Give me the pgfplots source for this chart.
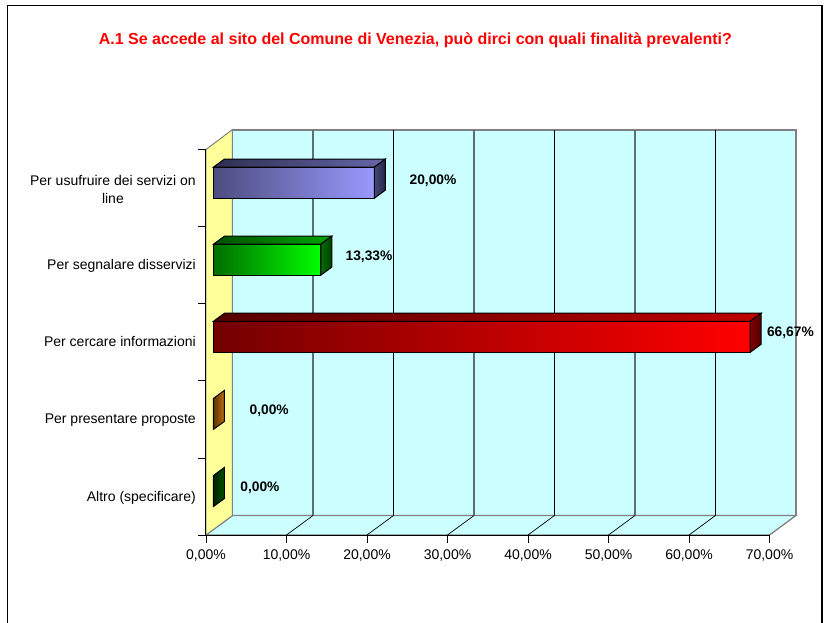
\documentclass[border=0pt]{standalone}
\usepackage{fontspec}
\setmainfont{Liberation Sans}
\usepackage{pgfplots}
\pgfplotsset{compat=1.18}
% 1pt in the file = 1px in the reference
\definecolor{wallcyan}{RGB}{204,255,255}
\definecolor{wallyellow}{RGB}{255,255,153}
\definecolor{wallgrey}{RGB}{128,128,128}
\definecolor{gridgrey}{RGB}{95,110,110}
\definecolor{bluefl}{RGB}{77,77,128}
\definecolor{bluefr}{RGB}{153,153,255}
\definecolor{bluetl}{RGB}{46,46,80}
\definecolor{bluetr}{RGB}{102,102,170}
\definecolor{bluesl}{RGB}{70,70,120}
\definecolor{bluesr}{RGB}{35,35,70}
\definecolor{greenfl}{RGB}{0,110,0}
\definecolor{greenfr}{RGB}{0,255,0}
\definecolor{greentl}{RGB}{0,80,0}
\definecolor{greentr}{RGB}{0,165,0}
\definecolor{greensl}{RGB}{0,110,0}
\definecolor{greensr}{RGB}{0,65,0}
\definecolor{redfl}{RGB}{115,0,0}
\definecolor{redfr}{RGB}{255,0,0}
\definecolor{redtl}{RGB}{85,0,0}
\definecolor{redtr}{RGB}{190,0,0}
\definecolor{redsl}{RGB}{130,0,0}
\definecolor{redsr}{RGB}{80,0,0}
\definecolor{brownl}{RGB}{90,50,0}
\definecolor{brownr}{RGB}{190,110,20}
\definecolor{dgreenl}{RGB}{0,35,0}
\definecolor{dgreenr}{RGB}{0,80,0}
\newcommand{\dx}{1.366}  % bar depth in percent units
\newcommand{\dy}{0.104}  % bar depth in category units
\newcommand{\hh}{0.201}  % half bar height in category units
% value, category centre, left colour, right colour
\newcommand{\frontface}[4]{%
  \pgfmathsetmacro\ylo{#2-\hh}\pgfmathsetmacro\yhi{#2+\hh}%
  \addplot[draw=black,line width=1pt,left color=#3,right color=#4,xshift=7.5pt,yshift=5.5pt]
    coordinates {(0,\ylo) (#1,\ylo) (#1,\yhi) (0,\yhi)} --cycle;
}
\newcommand{\topface}[4]{%
  \pgfmathsetmacro\yhi{#2+\hh}\pgfmathsetmacro\yb{#2+\hh+\dy}\pgfmathsetmacro\xb{#1+\dx}%
  \addplot[draw=black,line width=1pt,left color=#3,right color=#4,xshift=7.5pt,yshift=5.5pt]
    coordinates {(0,\yhi) (#1,\yhi) (\xb,\yb) (\dx,\yb)} --cycle;
}
\newcommand{\sideface}[4]{%
  \pgfmathsetmacro\ylo{#2-\hh}\pgfmathsetmacro\yhi{#2+\hh}%
  \pgfmathsetmacro\yc{#2-\hh+\dy}\pgfmathsetmacro\yb{#2+\hh+\dy}\pgfmathsetmacro\xb{#1+\dx}%
  \addplot[draw=black,line width=1pt,left color=#3,right color=#4,xshift=7.5pt,yshift=5.5pt]
    coordinates {(#1,\ylo) (\xb,\yc) (\xb,\yb) (#1,\yhi)} --cycle;
}
\begin{document}
\begin{tikzpicture}
\begin{axis}[
    scale only axis,
    width=563.5pt,
    height=385.5pt,
    xmin=0, xmax=70,
    ymin=0, ymax=5,
    clip=false,
    axis on top,
    axis lines*=left,
    axis line style={black,line width=1pt},
    tick style={black,line width=0.8pt},
    tick align=outside,
    major tick length=8pt,
    font=\fontsize{14}{18}\selectfont,
    xtick={0,10,20,30,40,50,60,70},
    xticklabels={{0,00\%},{10,00\%},{20,00\%},{30,00\%},{40,00\%},{50,00\%},{60,00\%},{70,00\%}},
    xticklabel style={inner sep=0pt,yshift=-7pt},
    ytick={0,1,2,3,4,5},
    yticklabels={},
    extra y ticks={0.5,1.5,2.5,3.5,4.5},
    extra y tick labels={\vphantom{(}Altro (specificare),\vphantom{(}Per presentare proposte,\vphantom{(}Per cercare informazioni,\vphantom{(}Per segnalare disservizi,{Per usufruire dei servizi on\\line}},
    extra y tick style={major tick length=0pt,
      yticklabel style={align=center,inner sep=0pt,xshift=-10pt,yshift=-1pt}},
]
% walls and floor
\addplot[fill=wallcyan,draw=wallgrey,line width=1.3pt,xshift=26.5pt,yshift=19.5pt]
  coordinates {(0,0) (70,0) (70,5) (0,5)} --cycle;
\addplot[fill=wallcyan,draw=wallgrey,line width=1.3pt]
  coordinates {(0,0) (3.292,0.253) (73.292,0.253) (70,0)} --cycle;
\addplot[fill=wallyellow,draw=wallgrey,line width=1pt]
  coordinates {(0,0) (3.292,0.253) (3.292,5.259) (0,5)} --cycle;
% gridlines, grey and black in turn as in the source
\pgfplotsinvokeforeach{10,30,50}{
  \addplot[gridgrey,line width=1.1pt,xshift=26.5pt,yshift=19.5pt] coordinates {(#1,0) (#1,5)};
}
\pgfplotsinvokeforeach{20,40,60}{
  \addplot[black,line width=0.8pt,xshift=26.5pt,yshift=19.5pt] coordinates {(#1,0) (#1,5)};
}
\addplot[black,line width=0.7pt] coordinates {(10,0) (13.292,0.253)};
\addplot[black,line width=0.7pt] coordinates {(20,0) (23.292,0.253)};
\addplot[black,line width=0.7pt] coordinates {(30,0) (33.292,0.253)};
\addplot[black,line width=0.7pt] coordinates {(40,0) (43.292,0.253)};
\addplot[black,line width=0.7pt] coordinates {(50,0) (53.292,0.253)};
\addplot[black,line width=0.7pt] coordinates {(60,0) (63.292,0.253)};
% bars
\frontface{20.00}{4.5}{bluefl}{bluefr}
\topface{20.00}{4.5}{bluetl}{bluetr}
\sideface{20.00}{4.5}{bluesl}{bluesr}
\frontface{13.33}{3.5}{greenfl}{greenfr}
\topface{13.33}{3.5}{greentl}{greentr}
\sideface{13.33}{3.5}{greensl}{greensr}
\frontface{66.67}{2.5}{redfl}{redfr}
\topface{66.67}{2.5}{redtl}{redtr}
\sideface{66.67}{2.5}{redsl}{redsr}
\sideface{0.00}{1.5}{brownl}{brownr}
\sideface{0.00}{0.5}{dgreenl}{dgreenr}
% value labels
\node[font=\fontsize{13.8}{16}\bfseries] at (axis cs:28.2,4.60) {20,00\%};
\node[font=\fontsize{13.8}{16}\bfseries] at (axis cs:20.25,3.615) {13,33\%};
\node[font=\fontsize{13.8}{16}\bfseries] at (axis cs:72.6,2.62) {66,67\%};
\node[font=\fontsize{13.8}{16}\bfseries] at (axis cs:7.85,1.615) {0,00\%};
\node[font=\fontsize{13.8}{16}\bfseries] at (axis cs:6.7,0.615) {0,00\%};
% title
\node[font=\fontsize{16}{18}\bfseries,text=red] at (axis cs:26,6.41) {A.1 Se accede al sito del Comune di Venezia, può dirci con quali finalità prevalenti?};
\end{axis}
% chart frame, open at the bottom
\draw[black,line width=1.4pt] (-198.5pt,-90pt) -- (-198.5pt,529.5pt) -- (616pt,529.5pt) -- (616pt,-90pt);
\pgfresetboundingbox
\path[use as bounding box] (-206pt,-87pt) rectangle (618pt,535pt);
\end{tikzpicture}
\end{document}
